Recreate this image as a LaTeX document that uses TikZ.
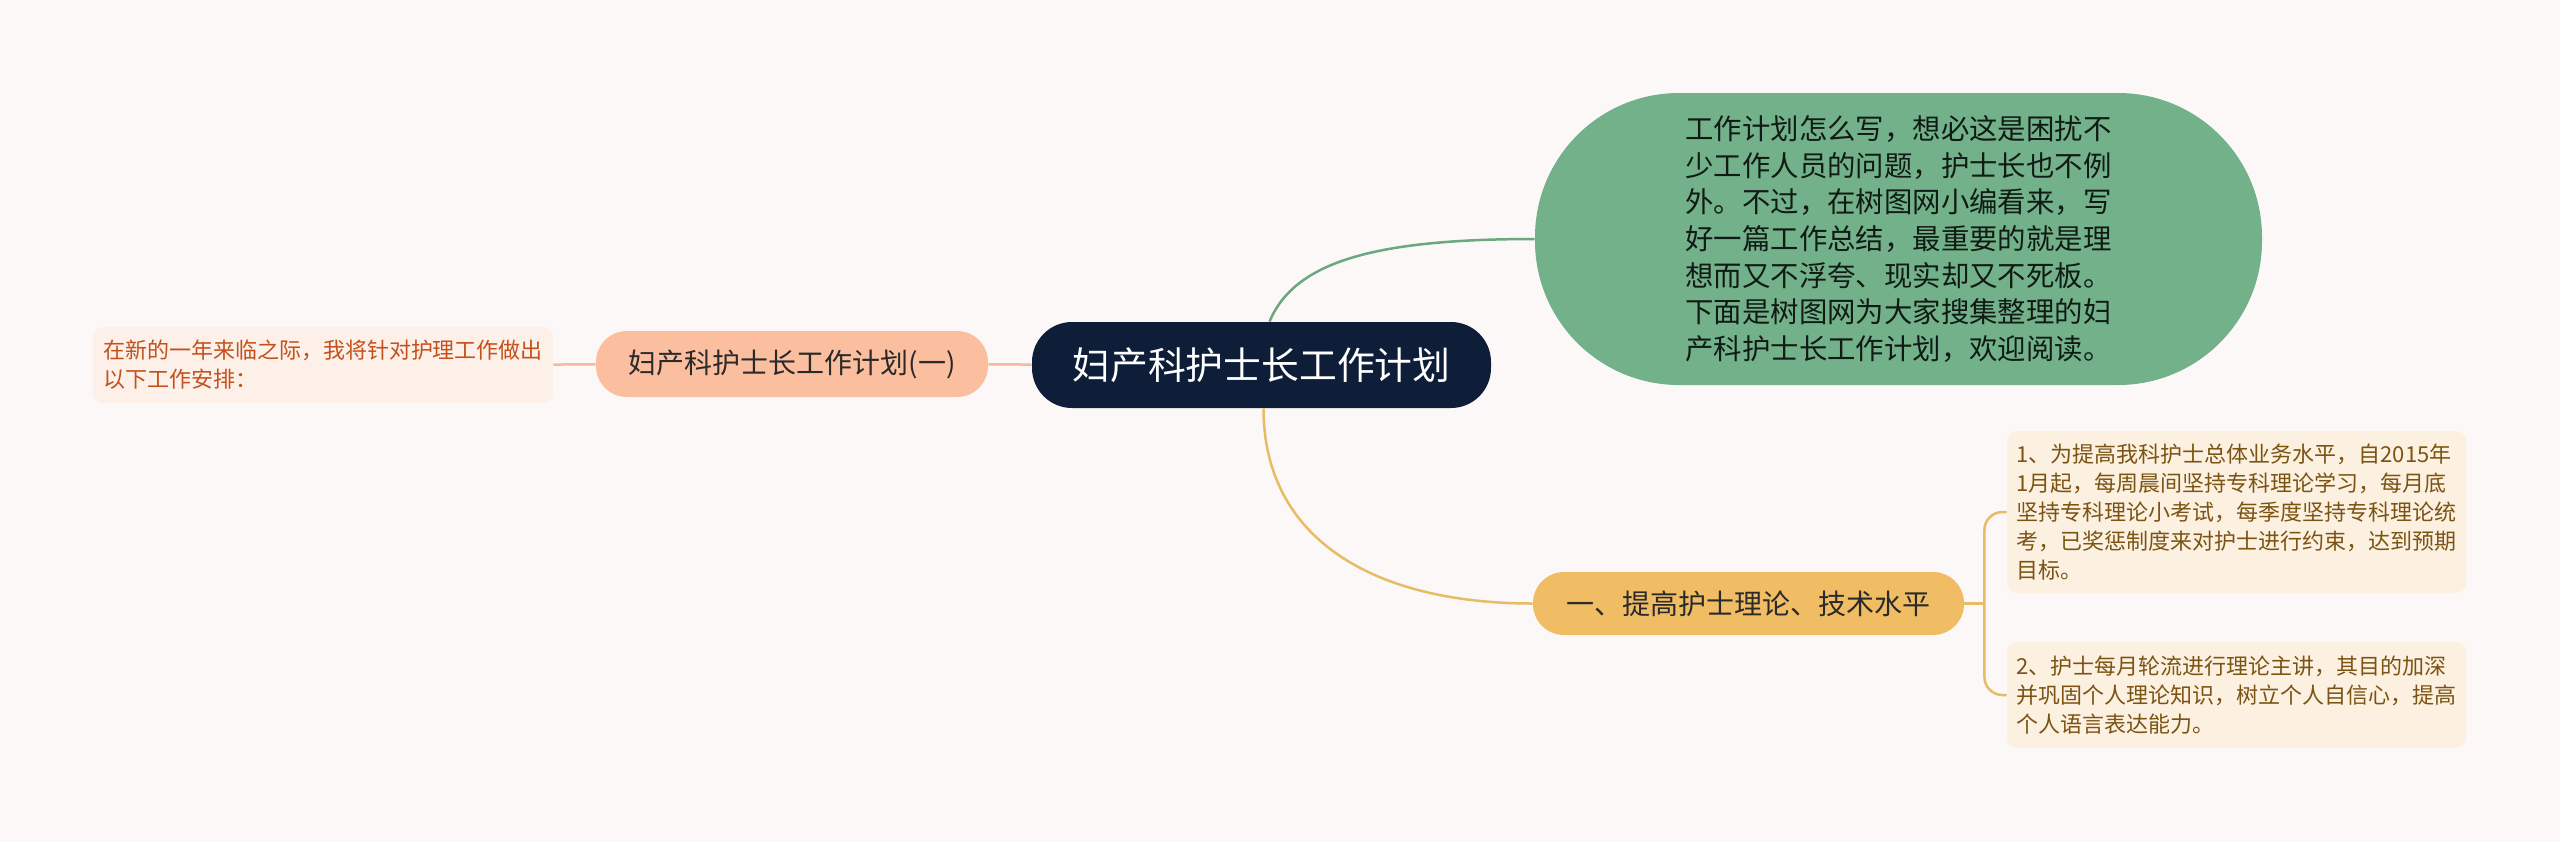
\documentclass[tikz,border=0pt]{standalone}
\usepackage{fontspec}
\setmainfont{Noto Sans CJK SC}

\definecolor{bg}{HTML}{FCF8F7}
\definecolor{navy}{HTML}{0E1E38}
\definecolor{peach}{HTML}{FBBE9E}
\definecolor{peachline}{HTML}{F5B99B}
\definecolor{peachleaf}{HTML}{FDF0E8}
\definecolor{rust}{HTML}{C4511C}
\definecolor{sage}{HTML}{72B189}
\definecolor{sageline}{HTML}{6AA882}
\definecolor{gold}{HTML}{F0BD65}
\definecolor{goldline}{HTML}{E8BC64}
\definecolor{goldleaf}{HTML}{FCF0E0}
\definecolor{umber}{HTML}{7B5413}
\definecolor{ink}{HTML}{2A2A2A}

\tikzset{
  topic/.style={fill=navy, text=white, rounded corners=20pt, minimum width=229.5pt,
    minimum height=43pt, font=\fontsize{18.9}{22}\selectfont},
  branch/.style={rounded corners=15.5pt, minimum height=32pt, text=ink,
    font=\fontsize{14}{18}\selectfont},
  leaf/.style={rounded corners=5pt, align=left, inner sep=0pt,
    font=\fontsize{11}{14.5}\selectfont},
  link/.style={line width=1.25pt},
}

\begin{document}
\begin{tikzpicture}[x=0.5pt, y=-0.5pt]
        \fill[bg] (0,0) rectangle (2560,842);
        \useasboundingbox (0,0) rectangle (2560,842);
        % centre and left side
        \node[topic] (root) at (1261.5,365) {妇产科护士长工作计划};
        \node[branch, fill=peach, minimum width=196pt, minimum height=33pt] (plan) at (792,364) {妇产科护士长工作计划(一)};
        \node[leaf, fill=peachleaf, text=rust, minimum width=230pt, minimum height=38pt] (note) at (323,365)
             {在新的一年来临之际，我将针对护理工作做出\\以下工作安排：};
        % right side
        \node[branch, fill=sage, text=black!85!sage, align=left, minimum width=363.5pt, minimum height=146pt,
              rounded corners=72pt, font=\fontsize{14.2}{18.3}\selectfont] (intro) at (1898.5,239)
             {工作计划怎么写，想必这是困扰不\\少工作人员的问题，护士长也不例\\外。不过，在树图网小编看来，写\\
              好一篇工作总结，最重要的就是理\\想而又不浮夸、现实却又不死板。\\下面是树图网为大家搜集整理的妇\\
              产科护士长工作计划，欢迎阅读。};
        \node[branch, fill=gold, minimum width=215.5pt, minimum height=31.5pt] (skill) at (1748.5,603.5) {一、提高护士理论、技术水平};
        \node[leaf, fill=goldleaf, text=umber, minimum width=229.5pt, minimum height=81pt] (item1) at (2236.5,512)
             {1、为提高我科护士总体业务水平，自2015年\\1月起，每周晨间坚持专科理论学习，每月底\\坚持专科理论小考试，每季度坚持专科理论统\\
              考，已奖惩制度来对护士进行约束，达到预期\\目标。};
        \node[leaf, fill=goldleaf, text=umber, minimum width=229.5pt, minimum height=53pt] (item2) at (2236.5,695)
             {2、护士每月轮流进行理论主讲，其目的加深\\并巩固个人理论知识，树立个人自信心，提高\\个人语言表达能力。};

        \draw[link, peachline] (note) -- (plan);
        \draw[link, peachline] (plan) -- (root);
        \draw[link, sageline] ([xshift=4pt]root.north) .. controls +(25,-60) and +(-160,0) .. (intro.west);
        \draw[link, goldline] ([xshift=1pt]root.south) .. controls +(0,130) and +(-160,0) .. (skill.west);
        \draw[link, goldline] (skill.east) -- ++(20,0) coordinate (fork);
        \draw[link, goldline, rounded corners=9pt] (fork) |- (item1.west);
        \draw[link, goldline, rounded corners=9pt] (fork) |- (item2.west);
    \end{tikzpicture}
\end{document}
